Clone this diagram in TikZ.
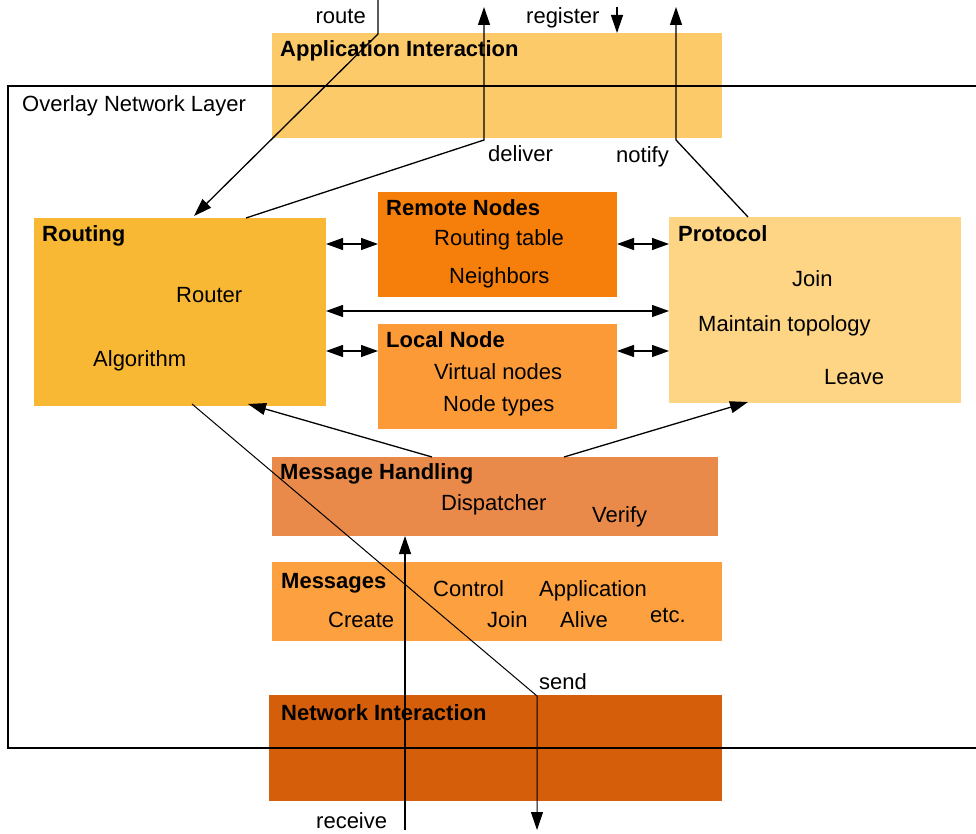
\documentclass[tikz,border=0pt]{standalone}
\usepackage{fontspec}
\setmainfont{Liberation Sans}
\usetikzlibrary{arrows.meta, calc}
\definecolor{appcol}{RGB}{253,202,106}
\definecolor{routcol}{RGB}{248,184,52}
\definecolor{remotecol}{RGB}{245,127,10}
\definecolor{localcol}{RGB}{253,154,56}
\definecolor{protcol}{RGB}{253,213,133}
\definecolor{handcol}{RGB}{233,138,74}
\definecolor{msgcol}{RGB}{253,160,64}
\definecolor{netcol}{RGB}{212,94,10}

\begin{document}
\begin{tikzpicture}[x=1pt, y=-1pt,
		box/.style={anchor=north west, inner sep=0pt, outer sep=0pt},
		heading/.style={anchor=base west, inner sep=0pt, font=\fontsize{22}{26}\selectfont\bfseries},
		entry/.style={anchor=base west, inner sep=0pt, font=\fontsize{22}{26}\selectfont},
		conn/.style={line width=1.3pt, -{Triangle[length=18pt, width=12pt]}},
		twoway/.style={line width=1.3pt, {Triangle[length=17pt, width=12pt]}-{Triangle[length=17pt, width=12pt]}}]
	\useasboundingbox (0,0) rectangle (976,834);

	% the boxes
	\node[box, fill=appcol, minimum width=450, minimum height=105] (app) at (272,33) {};
	\node[box, fill=routcol, minimum width=292, minimum height=188] (routing) at (34,218) {};
	\node[box, fill=remotecol, minimum width=239, minimum height=105] (remote) at (378,192) {};
	\node[box, fill=localcol, minimum width=239, minimum height=105] (local) at (378,324) {};
	\node[box, fill=protcol, minimum width=292, minimum height=186] (protocol) at (669,217) {};
	\node[box, fill=handcol, minimum width=446, minimum height=79] (msghand) at (272,457) {};
	\node[box, fill=msgcol, minimum width=450, minimum height=79] (messages) at (272,562) {};
	\node[box, fill=netcol, minimum width=453, minimum height=106] (netint) at (269,695) {};

	% overlay layer frame, its right side lies off the page
	\node[box, draw, line width=1.3pt, minimum width=990, minimum height=662] (layer) at (8,86) {};
	\node[entry] (layerlbl) at (22,112) {Overlay Network Layer};

	% texts
	\node[heading] (apptitle) at (280,57) {Application Interaction};
	\node[heading] (routtitle) at (42,241) {Routing};
	\node[entry] (router) at (176,302) {Router};
	\node[entry] (algo) at (93,366) {Algorithm};
	\node[heading] (remotetitle) at (386,215) {Remote Nodes};
	\node[entry] (rtable) at (434,246) {Routing table};
	\node[entry] (neigh) at (449,283) {Neighbors};
	\node[heading] (localtitle) at (386,347) {Local Node};
	\node[entry] (virt) at (434,379) {Virtual nodes};
	\node[entry] (ntypes) at (443,411) {Node types};
	\node[heading] (prottitle) at (678,241) {Protocol};
	\node[entry] (pjoin) at (792,286) {Join};
	\node[entry] (maint) at (698,331) {Maintain topology};
	\node[entry] (leave) at (824,384) {Leave};
	\node[heading] (handtitle) at (280,479) {Message Handling};
	\node[entry] (disp) at (441,510) {Dispatcher};
	\node[entry] (verify) at (592,522) {Verify};
	\node[heading] (msgtitle) at (281,588) {Messages};
	\node[entry] (control) at (433,596) {Control};
	\node[entry] (appl) at (539,596) {Application};
	\node[entry] (create) at (328,627) {Create};
	\node[entry] (mjoin) at (487,627) {Join};
	\node[entry] (alive) at (560,627) {Alive};
	\node[entry] (etc) at (650,622) {etc.};
	\node[heading] (nettitle) at (281,720) {Network Interaction};

	% labels of the connectors
	\node[entry, anchor=base east] (routelbl) at (366,24) {route};
	\node[entry] (reglbl) at (526,24) {register};
	\node[entry] (delivlbl) at (488,162) {deliver};
	\node[entry] (notilbl) at (616,163) {notify};
	\node[entry] (sendlbl) at (539,689) {send};
	\node[entry] (recvlbl) at (316,828) {receive};

	% free ends and bends
	\coordinate (routein) at (378,0);
	\coordinate (routebend) at (378,34);
	\coordinate (delivbend) at (484,140);
	\coordinate (delivout) at (484,7);
	\coordinate (regin) at (617,7);
	\coordinate (notibend) at (676,140);
	\coordinate (notiout) at (676,7);
	\coordinate (sendbend) at (537,696);
	\coordinate (sendout) at (537,830);
	\coordinate (recvin) at (405,830);

	% connectors
	\draw[conn] (routein) -- (routebend) -- ($(routing.north west)+(160,-2)$);
	\draw[conn] ($(routing.north west)+(212,0)$) -- (delivbend) -- (delivout);
	\draw[conn] (regin) -- (regin |- app.north);
	\draw[conn] ($(protocol.north west)+(79,0)$) -- (notibend) -- (notiout);

	\draw[twoway] ($(routing.north east)+(0,26)$) -- ($(remote.north west)+(0,52)$);
	\draw[twoway] ($(remote.north east)+(0,52)$) -- ($(protocol.north west)+(0,27)$);
	\draw[twoway] ($(routing.north east)+(0,93)$) -- ($(protocol.north west)+(0,94)$);
	\draw[twoway] ($(routing.north east)+(0,133)$) -- ($(local.north west)+(0,27)$);
	\draw[twoway] ($(local.north east)+(0,27)$) -- ($(protocol.north west)+(0,134)$);

	\draw[conn] ($(msghand.north west)+(160,0)$) -- ($(routing.south west)+(214,-2)$);
	\draw[conn] ($(msghand.north west)+(292,0)$) -- ($(protocol.south west)+(79,-1)$);

	\draw[conn, line width=1pt] ($(routing.south west)+(158,-2)$) -- (sendbend) -- (sendout);
	\draw[conn] (recvin) -- (recvin |- msghand.south);
\end{tikzpicture}
\end{document}
